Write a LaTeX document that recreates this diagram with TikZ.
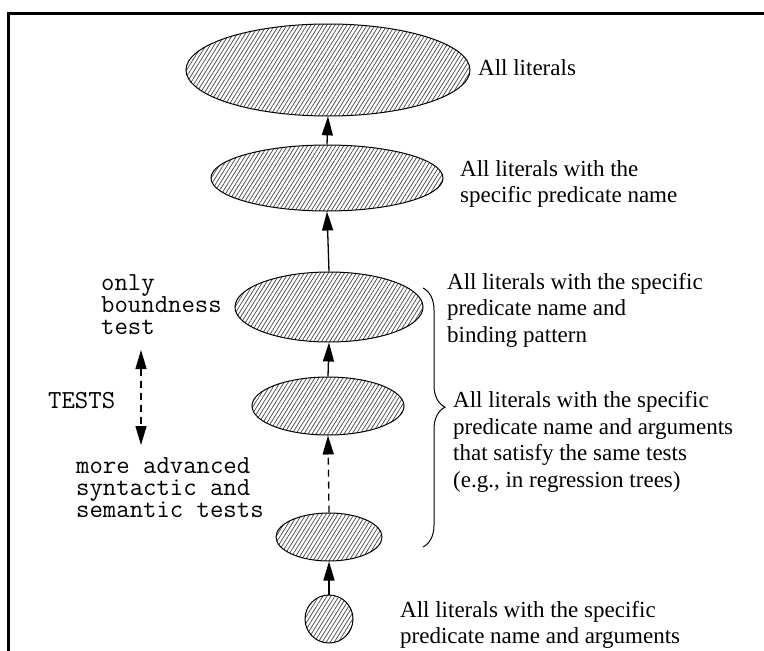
\documentclass[tikz,border=0pt]{standalone}
\usepackage{fontspec}
\setmainfont{Liberation Serif}
\usetikzlibrary{shapes.geometric,arrows.meta,patterns.meta,decorations.pathreplacing}

\tikzset{
  headtip/.tip={Triangle[length=19pt,width=11pt]},
  hatched/.style={ellipse, draw, line width=1pt, inner sep=0pt,
    pattern={Lines[angle=58, distance=3.4pt, line width=0.75pt]}, pattern color=black!70},
  uparrow/.style={line width=1.3pt, -{headtip}},
  dasharrow/.style={uparrow, dash pattern=on 7pt off 5pt},
  serifnote/.style={align=left, anchor=west, inner sep=0pt,
    font=\fontsize{23}{26.5}\selectfont},
  mononote/.style={align=left, anchor=west, inner sep=0pt,
    font=\ttfamily\fontsize{26}{22}\selectfont},
  frameline/.style={line width=3pt}
}

\begin{document}
\begin{tikzpicture}[x=1pt,y=-1pt]
\useasboundingbox (0,0) rectangle (764,651);

% open frame: left and top edges
\draw[frameline] (8.5,651) -- (8.5,13.5) -- (764,13.5);

% nested literal sets, largest on top
\node[hatched, minimum width=284pt, minimum height=92pt] (e1) at (328,70) {};
\node[hatched, minimum width=232pt, minimum height=66pt] (e2) at (327,178) {};
\node[hatched, minimum width=188pt, minimum height=70pt] (e3) at (329,307) {};
\node[hatched, minimum width=152pt, minimum height=58pt] (e4) at (328,406) {};
\node[hatched, minimum width=106pt, minimum height=48pt] (e5) at (329,537) {};
\node[hatched, circle, minimum size=48pt] (e6) at (329,619) {};

% generalisation arrows
\draw[uparrow] (e2.north) -- (e1.south);
\draw[uparrow] (e3.north) -- (e2.south);
\draw[uparrow] (e4.north) -- (e3.south);
\draw[dasharrow] (e5.north) -- (e4.south);
\draw[uparrow] (e6.north) -- (e5.south);

% descriptions on the right
\node[serifnote] (t1) at (478,68) {All literals};
\node[serifnote] (t2) at (460,184) {All literals with the\\specific predicate name};
\node[serifnote] (t3) at (447,310) {All literals with the specific\\predicate name and\\binding pattern};
\node[serifnote] (t4) at (453,442) {All literals with the specific\\predicate name and arguments\\that satisfy the same tests\\(e.g., in regression trees)};
\node[serifnote] (t6) at (400,625) {All literals with the specific\\predicate name and arguments};

% brace grouping the two middle levels
\coordinate (bt) at (423,288);
\coordinate (bb) at (423,547);
\draw[line width=1pt, decorate, decoration={brace, amplitude=22pt, aspect=0.46}] (bt) -- (bb);

% test annotations on the left
\node[mononote] (m1) at (101,305) {only\\boundness\\test};
\node[mononote] (m2) at (48,401) {TESTS};
\node[mononote] (m3) at (76,488) {more advanced\\syntactic and\\semantic tests};

\coordinate (da) at (141,350);
\coordinate (db) at (141,445);
\draw[line width=1.3pt, dash pattern=on 7pt off 5pt, {headtip}-{headtip}] (da) -- (db);
\end{tikzpicture}
\end{document}
